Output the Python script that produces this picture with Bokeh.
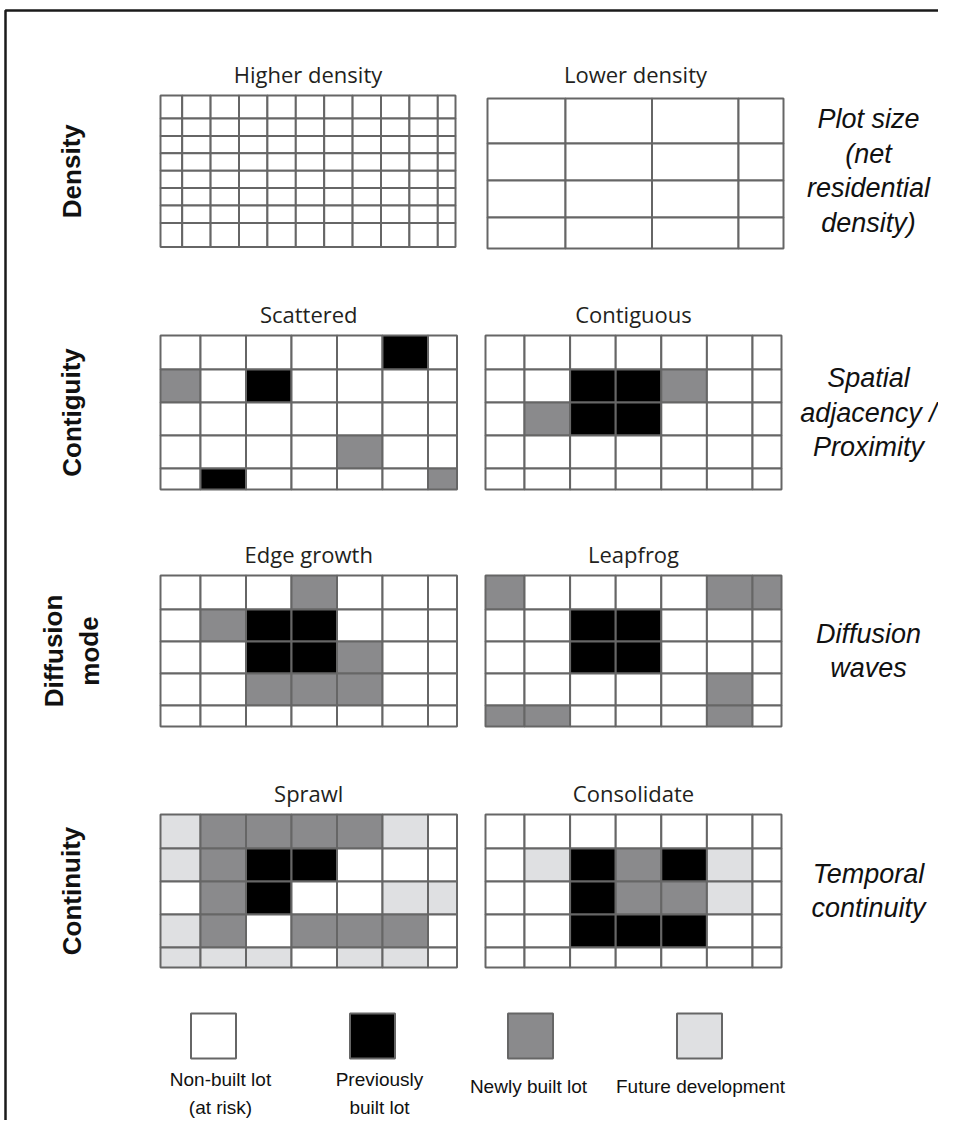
from bokeh.plotting import figure
from bokeh.models import Range1d, ColumnDataSource
from bokeh.core.properties import value
from bokeh.embed import file_html
from bokeh.resources import INLINE

# ---------------- data ----------------
row_labels = ["Density", "Contiguity", "Diffusion\nmode", "Continuity"]
right_labels = ["Plot size\n(net\nresidential\ndensity)",
                "Spatial\nadjacency /\nProximity",
                "Diffusion\nwaves",
                "Temporal\ncontinuity"]
left_titles = ["Higher density", "Scattered", "Edge growth", "Sprawl"]
right_titles = ["Lower density", "Contiguous", "Leapfrog", "Consolidate"]

# lot states: "." non-built, "P" previously built, "N" newly built, "F" future development
higher_density = ["..........."] * 8
lower_density = ["...."] * 4
scattered = [".....P.",
             "N.P....",
             ".......",
             "....N..",
             ".P....N"]
contiguous = [".......",
              "..PPN..",
              ".NPP...",
              ".......",
              "......."]
edge_growth = ["...N...",
               ".NPP...",
               "..PPN..",
               "..NNN..",
               "......."]
leapfrog = ["N....NN",
            "..PP...",
            "..PP...",
            ".....N.",
            "NN...N."]
sprawl = ["FNNNNF.",
          "FNPP...",
          ".NP..FF",
          "FN.NNN.",
          "FFF.FF."]
consolidate = [".......",
               ".FPNPF.",
               "..PNNF.",
               "..PPP..",
               "......."]

legend_codes = [".", "P", "N", "F"]
legend_labels = ["Non-built lot\n(at risk)", "Previously\nbuilt lot",
                 "Newly built lot", "Future development"]

# ---------------- styles / layout ----------------
FILL = {".": "#ffffff", "P": "#000000", "N": "#8a8a8c", "F": "#dfe0e2"}
GRID_LINE = "#666666"
TEXT = "#231f20"


def edges(start, first, step, n_full, last):
    e = [start, start + first]
    for _ in range(n_full):
        e.append(e[-1] + step)
    e.append(e[-1] + last)
    return e


LEFT_X = edges(160, 40, 45.5, 5, 29)
RIGHT_X = edges(485, 39, 45.6, 5, 29)
row_y = [
    (edges(95, 23, 17.4, 6, 24), edges(98, 45, 37, 2, 31)),
    (edges(335, 34, 33, 3, 21),) * 2,
    (edges(575, 34, 32, 3, 21),) * 2,
    (edges(814, 34, 33, 3, 20),) * 2,
]
panels = [
    (higher_density, edges(160, 21.7, 28.4, 9, 17.7), row_y[0][0],
     lower_density, edges(487, 78, 86.5, 2, 45), row_y[0][1]),
    (scattered, LEFT_X, row_y[1][0], contiguous, RIGHT_X, row_y[1][1]),
    (edge_growth, LEFT_X, row_y[2][0], leapfrog, RIGHT_X, row_y[2][1]),
    (sprawl, LEFT_X, row_y[3][0], consolidate, RIGHT_X, row_y[3][1]),
]

W, H = 938, 1120
p = figure(width=W, height=H, x_range=Range1d(0, W), y_range=Range1d(H, 0),
           output_backend="svg", toolbar_location=None, min_border=0,
           outline_line_color=None, background_fill_color="white",
           border_fill_color="white")
p.axis.visible = False
p.grid.visible = False

# outer frame (left and top edges visible)
p.quad(left=[5], right=[2000], top=[10], bottom=[3000], fill_color=None,
       line_color="#1a1a1a", line_width=2.5)

cells = dict(left=[], right=[], top=[], bottom=[], color=[])
titles = dict(x=[], y=[], text=[])
rows = dict(x=[], y=[], text=[])
rights = dict(x=[], y=[], text=[])


def add_grid(mat, xe, ye):
    for r, line in enumerate(mat):
        for c, code in enumerate(line):
            cells["left"].append(xe[c])
            cells["right"].append(xe[c + 1])
            cells["top"].append(ye[r])
            cells["bottom"].append(ye[r + 1])
            cells["color"].append(FILL[code])


for i, (lm, lx, ly, rm, rx, ry) in enumerate(panels):
    add_grid(lm, lx, ly)
    add_grid(rm, rx, ry)
    ty = min(ly[0], ry[0]) - 22
    titles["x"] += [(lx[0] + lx[-1]) / 2, (rx[0] + rx[-1]) / 2]
    titles["y"] += [ty, ty]
    titles["text"] += [left_titles[i], right_titles[i]]
    cy = (ly[0] + ly[-1]) / 2
    rows["x"].append(71)
    rows["y"].append(cy)
    rows["text"].append(row_labels[i])
    rights["x"].append(868)
    rights["y"].append(cy)
    rights["text"].append(right_labels[i])

p.quad(left="left", right="right", top="top", bottom="bottom",
       fill_color="color", line_color=GRID_LINE, line_width=2,
       source=ColumnDataSource(cells))

p.text(x="x", y="y", text="text", source=ColumnDataSource(titles),
       text_font=value("Open Sans"), text_font_size="22px", text_color=TEXT,
       text_align="center", text_baseline="middle")

p.text(x="x", y="y", text="text", source=ColumnDataSource(rows),
       text_font=value("Liberation Sans"), text_font_style="bold",
       text_font_size="26px", text_color="#111111", angle=1.5708,
       text_align="center", text_baseline="middle", text_line_height=1.2)

p.text(x="x", y="y", text="text", source=ColumnDataSource(rights),
       text_font=value("Liberation Sans"), text_font_style="italic",
       text_font_size="27px", text_color="#111111",
       text_align="center", text_baseline="middle", text_line_height=1.15)

# legend
legend_x = [213, 372, 530, 699]
label_x = [220, 379, 528, 700]
label_y = [1093, 1093, 1086, 1086]
size = 45
p.quad(left=[x - size / 2 for x in legend_x], right=[x + size / 2 for x in legend_x],
       top=[1013] * 4, bottom=[1013 + size] * 4,
       fill_color=[FILL[c] for c in legend_codes], line_color=GRID_LINE, line_width=2)
p.text(x=label_x, y=label_y, text=legend_labels,
       text_font=value("Liberation Sans"), text_font_size="19px", text_color="#111111",
       text_align="center", text_baseline="middle", text_line_height=1.3)

open("out.html", "w").write(file_html(p, INLINE))
